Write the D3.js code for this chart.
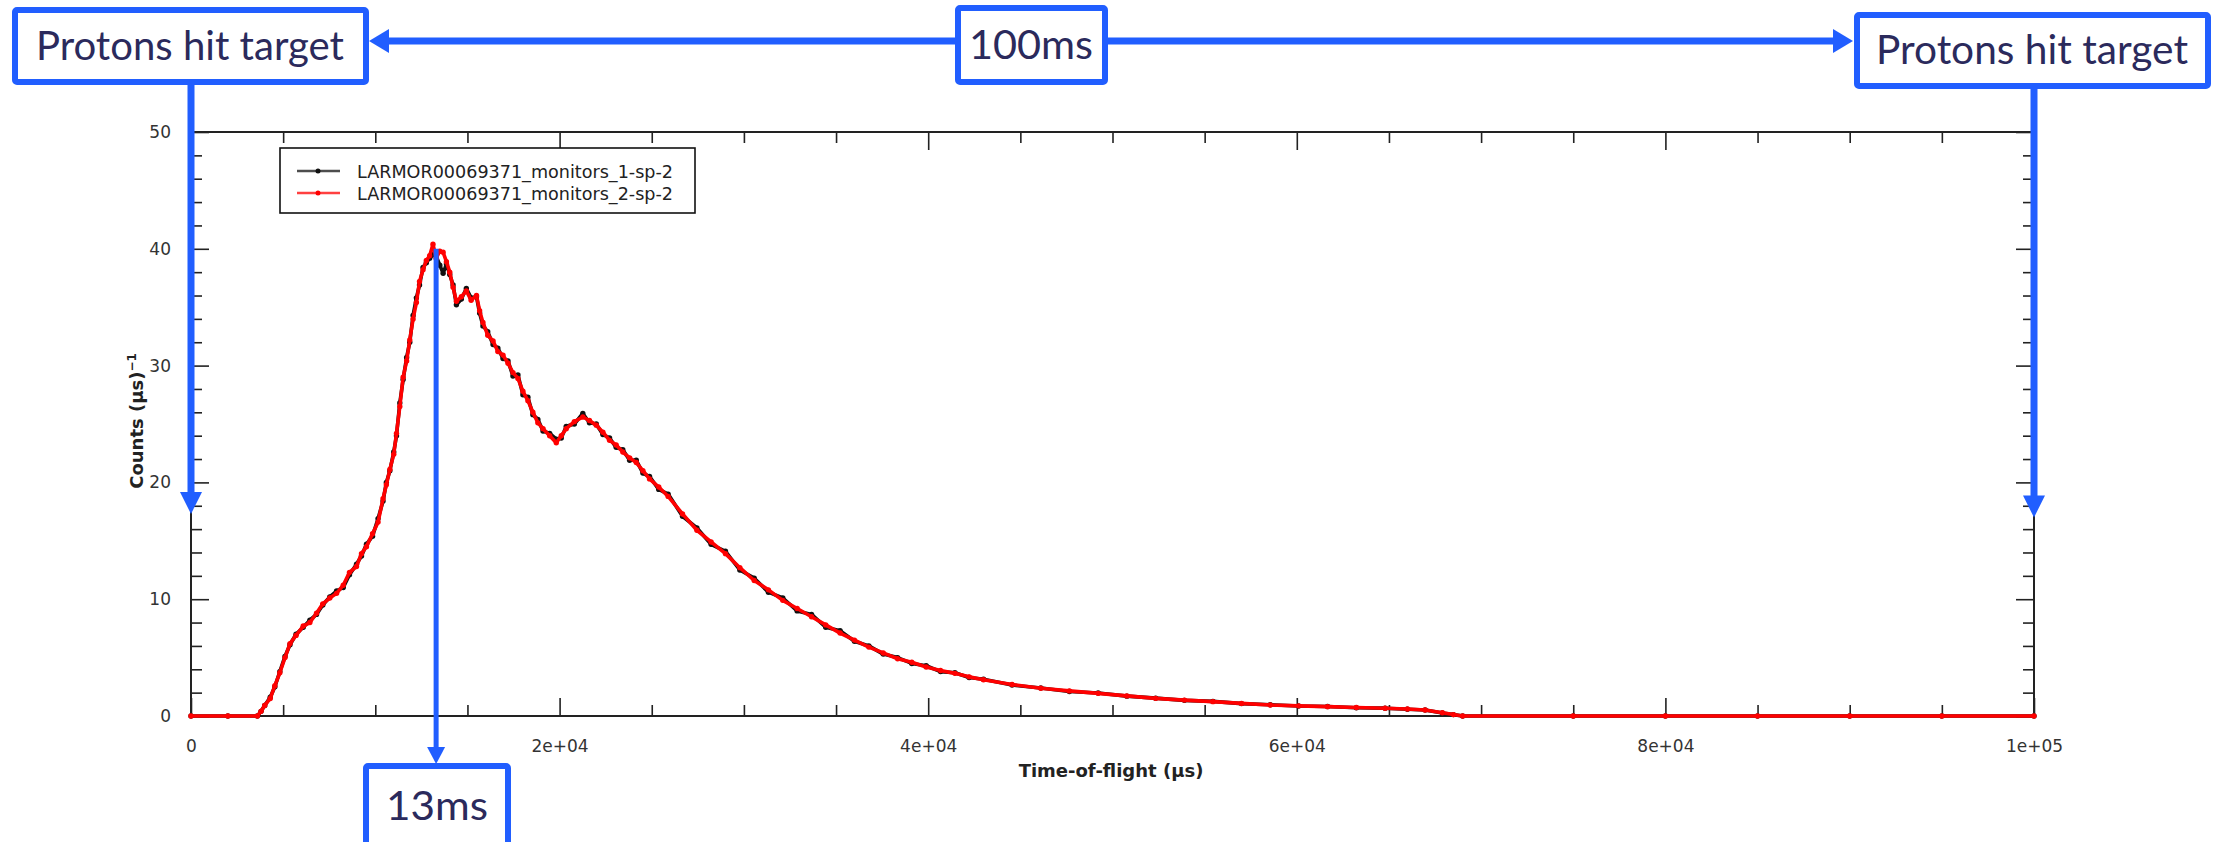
<!DOCTYPE html>
<html>
<head>
<meta charset="utf-8">
<title>LARMOR00069371 monitors</title>
<script src="https://d3js.org/d3.v7.min.js"></script>
<style>
    body { margin: 0; background: #fff; }
    .axis path { display: none; }
    .axis line { stroke: #222; stroke-width: 1.6px; }
    .axis text { font-family: "DejaVu Sans", sans-serif; font-size: 17px; fill: #333; }
    .axisTitle { font-family: "DejaVu Sans", sans-serif; font-weight: bold; font-size: 18px; fill: #222; }
    .legendText { font-family: "DejaVu Sans", sans-serif; font-size: 18px; fill: #222; }
    .noteText { font-family: Lato, "Open Sans", sans-serif; font-size: 40px; fill: #2b2a5c; }
</style>
</head>
<body>
<script>
//time-of-flight of each reading (µs)
var tof = [0, 2000, 3600, 3800, 4000, 4300, 4550, 4820, 5100, 5370,
    5700, 6090, 6450, 6810, 7150, 7530, 7900, 8260, 8600, 8980,
    9250, 9520, 9850, 10150, 10420, 10600, 10790, 11000, 11150, 11330,
    11510, 11700, 11870, 12050, 12230, 12400, 12590, 12770, 12950, 13130,
    13300, 13500, 13680, 13860, 14040, 14220, 14400, 14670, 14940, 15200,
    15490, 15660, 15840, 16100, 16390, 16650, 16930, 17200, 17470, 17740,
    18010, 18280, 18550, 18820, 19100, 19460, 19820, 20090, 20360, 20800,
    21260, 21620, 21990, 22350, 22710, 23070, 23430, 23800, 24160, 24520,
    24880, 25380, 25890, 26670, 27450, 28220, 29000, 29780, 30560, 31330,
    32110, 32890, 33670, 34440, 35220, 36000, 36780, 37560, 38340, 39110,
    39890, 40670, 41450, 42220, 43000, 44550, 46110, 47660, 49220, 50780,
    52340, 53900, 55450, 57000, 58560, 60100, 61670, 63230, 64790, 66000,
    66960, 67900, 68500, 69000, 75000, 80000, 85000, 90000, 95000, 100000];

//monitor 1 counts (black)
var monitor1 = [0, 0, 0, 0.4, 0.9, 1.6, 2.5, 3.8, 5.1, 6.1,
    7.0, 7.6, 8.2, 8.7, 9.5, 10.2, 10.7, 11.0, 12.1, 13.0,
    13.7, 14.7, 15.4, 16.9, 18.4, 20.0, 21.0, 22.6, 24.0, 26.8,
    28.8, 30.7, 32.0, 34.3, 35.8, 36.9, 38.4, 38.8, 39.2, 39.5,
    39.4, 38.6, 37.9, 38.7, 37.8, 36.9, 35.2, 35.7, 36.6, 35.8,
    35.9, 34.5, 33.4, 32.9, 31.8, 31.5, 30.6, 30.4, 29.1, 29.2,
    27.5, 27.3, 25.8, 25.4, 24.4, 24.2, 23.7, 23.8, 24.8, 25.0,
    25.9, 25.1, 25.0, 24.1, 23.8, 23.0, 22.8, 21.9, 21.9, 20.8,
    20.5, 19.4, 19.0, 17.1, 16.1, 14.7, 14.1, 12.5, 11.8, 10.6,
    10.1, 9.0, 8.7, 7.6, 7.3, 6.4, 6.0, 5.3, 5.0, 4.5,
    4.3, 3.8, 3.7, 3.3, 3.15, 2.65, 2.4, 2.1, 1.97, 1.70,
    1.53, 1.34, 1.25, 1.06, 0.96, 0.85, 0.81, 0.71, 0.67, 0.58,
    0.52, 0.26, 0.12, 0, 0, 0, 0, 0, 0, 0];

//monitor 2 counts (red)
var monitor2 = [0, 0, 0, 0.4, 0.9, 1.5, 2.6, 3.7, 5.0, 6.2,
    6.9, 7.7, 8.0, 8.8, 9.6, 10.1, 10.5, 11.2, 12.3, 12.8,
    13.9, 14.5, 15.6, 16.6, 18.6, 19.8, 21.1, 22.4, 24.2, 26.5,
    29.0, 30.4, 32.2, 34.0, 35.4, 37.2, 38.2, 39.0, 39.4, 40.4,
    39.2, 39.8, 39.7, 38.9, 38.0, 36.7, 35.5, 35.9, 36.4, 35.6,
    36.0, 34.7, 33.7, 32.6, 32.1, 31.2, 30.9, 30.2, 29.4, 28.9,
    27.8, 27.0, 26.0, 25.1, 24.6, 24.0, 23.4, 24.0, 24.6, 25.2,
    25.6, 25.3, 24.9, 24.3, 23.6, 23.2, 22.6, 22.1, 21.7, 21.0,
    20.3, 19.6, 18.8, 17.3, 15.9, 14.9, 13.9, 12.7, 11.6, 10.8,
    9.9, 9.2, 8.5, 7.8, 7.1, 6.5, 5.9, 5.4, 4.9, 4.6,
    4.2, 3.9, 3.65, 3.35, 3.1, 2.7, 2.37, 2.15, 1.94, 1.72,
    1.51, 1.36, 1.23, 1.08, 0.94, 0.87, 0.80, 0.73, 0.66, 0.6,
    0.51, 0.28, 0.12, 0, 0, 0, 0, 0, 0, 0];

var seriesNames = ["LARMOR00069371_monitors_1-sp-2", "LARMOR00069371_monitors_2-sp-2"];
var seriesColors = ["#111111", "#ff0000"];

//axis ticks
var xTickValues = [0, 20000, 40000, 60000, 80000, 100000];
var xTickLabels = ["0", "2e+04", "4e+04", "6e+04", "8e+04", "1e+05"];
var yTickValues = [0, 10, 20, 30, 40, 50];

//annotation anchors in data units
var peakTof = 13300, peakCounts = 40;
var leftArrowCounts = 17.3, rightArrowCounts = 17.0;
var notes = ["Protons hit target", "100ms", "Protons hit target", "13ms"];

(function () {

    var width = 2219,
        height = 842;

    var blue = "#215eff";

    var svg = d3.select("body")
        .append("svg")
        .attr("width", width)
        .attr("height", height);

    //plot frame
    var x = d3.scaleLinear().domain([0, 100000]).range([191, 2034]);
    var y = d3.scaleLinear().domain([0, 50]).range([716, 132]);

    setAxes();
    setLines();
    setLegend();
    setNotes();

    function setAxes() {
        var minorX = d3.range(0, 100001, 5000).filter(function (d) { return d % 20000 != 0; });
        var minorY = d3.range(0, 51, 2).filter(function (d) { return d % 10 != 0; });

        //bottom, major with labels
        svg.append("g").attr("class", "axis")
            .attr("transform", "translate(0," + y(0) + ")")
            .call(d3.axisBottom(x).tickValues(xTickValues).tickSizeInner(-18).tickSizeOuter(0).tickPadding(24)
                .tickFormat(function (d, i) { return xTickLabels[i]; }));
        svg.append("g").attr("class", "axis")
            .attr("transform", "translate(0," + y(0) + ")")
            .call(d3.axisBottom(x).tickValues(minorX).tickSize(-11).tickFormat(""));

        //top
        svg.append("g").attr("class", "axis")
            .attr("transform", "translate(0," + y(50) + ")")
            .call(d3.axisTop(x).tickValues(xTickValues).tickSize(-18).tickFormat(""));
        svg.append("g").attr("class", "axis")
            .attr("transform", "translate(0," + y(50) + ")")
            .call(d3.axisTop(x).tickValues(minorX).tickSize(-11).tickFormat(""));

        //left with labels
        svg.append("g").attr("class", "axis")
            .attr("transform", "translate(" + x(0) + ",0)")
            .call(d3.axisLeft(y).tickValues(yTickValues).tickSizeInner(-18).tickSizeOuter(0).tickPadding(20));
        svg.append("g").attr("class", "axis")
            .attr("transform", "translate(" + x(0) + ",0)")
            .call(d3.axisLeft(y).tickValues(minorY).tickSize(-11).tickFormat(""));

        //right
        svg.append("g").attr("class", "axis")
            .attr("transform", "translate(" + x(100000) + ",0)")
            .call(d3.axisRight(y).tickValues(yTickValues).tickSize(-18).tickFormat(""));
        svg.append("g").attr("class", "axis")
            .attr("transform", "translate(" + x(100000) + ",0)")
            .call(d3.axisRight(y).tickValues(minorY).tickSize(-11).tickFormat(""));

        //frame
        svg.append("rect")
            .attr("x", x(0))
            .attr("y", y(50))
            .attr("width", x(100000) - x(0))
            .attr("height", y(0) - y(50))
            .attr("fill", "none")
            .attr("stroke", "#222")
            .attr("stroke-width", 2);

        //axis titles
        svg.append("text")
            .attr("class", "axisTitle")
            .attr("x", 1111)
            .attr("y", 777)
            .attr("text-anchor", "middle")
            .text("Time-of-flight (μs)");

        var yTitle = svg.append("text")
            .attr("class", "axisTitle")
            .attr("transform", "translate(143,421) rotate(-90)")
            .attr("text-anchor", "middle");
        yTitle.append("tspan").text("Counts (μs)");
        yTitle.append("tspan")
            .attr("dy", -7)
            .style("font-size", "12px")
            .text("−1");
    };

    function setLines() {
        var line = d3.line()
            .x(function (d) { return x(d[0]); })
            .y(function (d) { return y(d[1]); });

        [monitor1, monitor2].forEach(function (vals, s) {
            var pts = d3.zip(tof, vals);
            svg.append("path")
                .datum(pts)
                .attr("fill", "none")
                .attr("stroke", seriesColors[s])
                .attr("stroke-width", 3.6)
                .attr("stroke-linejoin", "round")
                .attr("d", line);
            svg.selectAll(".dots" + s)
                .data(pts)
                .enter()
                .append("circle")
                .attr("class", "dots" + s)
                .attr("cx", function (d) { return x(d[0]); })
                .attr("cy", function (d) { return y(d[1]); })
                .attr("r", 2.7)
                .attr("fill", seriesColors[s]);
        });
    };

    function setLegend() {
        var legend = svg.append("g");
        legend.append("rect")
            .attr("x", 280)
            .attr("y", 148)
            .attr("width", 415)
            .attr("height", 65)
            .attr("fill", "#fff")
            .attr("stroke", "#111")
            .attr("stroke-width", 1.6);

        seriesNames.forEach(function (name, i) {
            var ly = 171 + i * 22;
            legend.append("line")
                .attr("x1", 297).attr("x2", 340)
                .attr("y1", ly).attr("y2", ly)
                .attr("stroke", seriesColors[i])
                .attr("stroke-opacity", 0.75)
                .attr("stroke-width", 2.5);
            legend.append("circle")
                .attr("cx", 318).attr("cy", ly)
                .attr("r", 2.5)
                .attr("fill", seriesColors[i]);
            legend.append("text")
                .attr("class", "legendText")
                .attr("x", 357)
                .attr("y", ly + 7)
                .attr("textLength", 316)
                .attr("lengthAdjust", "spacingAndGlyphs")
                .text(name);
        });
    };

    //blue triangle, tip at (tx,ty)
    function arrowHead(tx, ty, dir, len, half) {
        var p;
        if (dir == "down") p = [[tx, ty], [tx - half, ty - len], [tx + half, ty - len]];
        if (dir == "left") p = [[tx, ty], [tx + len, ty - half], [tx + len, ty + half]];
        if (dir == "right") p = [[tx, ty], [tx - len, ty - half], [tx - len, ty + half]];
        svg.append("polygon")
            .attr("points", p.map(function (d) { return d.join(","); }).join(" "))
            .attr("fill", blue);
    };

    function noteBox(bx, by, bw, bh, label, cx, base, tl) {
        svg.append("rect")
            .attr("x", bx).attr("y", by)
            .attr("width", bw).attr("height", bh)
            .attr("rx", 2)
            .attr("fill", "#fff")
            .attr("stroke", blue)
            .attr("stroke-width", 6);
        svg.append("text")
            .attr("class", "noteText")
            .attr("x", cx)
            .attr("y", base)
            .attr("text-anchor", "middle")
            .attr("textLength", tl)
            .attr("lengthAdjust", "spacingAndGlyphs")
            .text(label);
    };

    function setNotes() {
        var lineY = 41;

        //100ms span between the two pulses
        svg.append("line")
            .attr("x1", 385).attr("x2", 1837)
            .attr("y1", lineY).attr("y2", lineY)
            .attr("stroke", blue).attr("stroke-width", 7);
        arrowHead(369, lineY, "left", 20, 12);
        arrowHead(1853, lineY, "right", 20, 12);

        //pulse arrows down the frame edges
        var tipL = y(leftArrowCounts), tipR = y(rightArrowCounts);
        svg.append("line")
            .attr("x1", x(0)).attr("x2", x(0))
            .attr("y1", 84).attr("y2", tipL - 18)
            .attr("stroke", blue).attr("stroke-width", 7);
        arrowHead(x(0), tipL, "down", 22, 11);
        svg.append("line")
            .attr("x1", x(100000)).attr("x2", x(100000))
            .attr("y1", 86).attr("y2", tipR - 18)
            .attr("stroke", blue).attr("stroke-width", 7);
        arrowHead(x(100000), tipR, "down", 22, 11);

        //peak marker
        svg.append("line")
            .attr("x1", x(peakTof)).attr("x2", x(peakTof))
            .attr("y1", y(peakCounts)).attr("y2", 750)
            .attr("stroke", blue).attr("stroke-width", 5);
        arrowHead(x(peakTof), 764, "down", 17, 9);

        noteBox(15, 10, 351, 72, notes[0], 190, 60, 308);
        noteBox(958, 8, 147, 74, notes[1], 1031, 59, 124);
        noteBox(1857, 15, 351, 71, notes[2], 2032, 64, 312);
        noteBox(366, 766, 142, 100, notes[3], 437, 820, 102);
    };

})();
</script>
</body>
</html>
